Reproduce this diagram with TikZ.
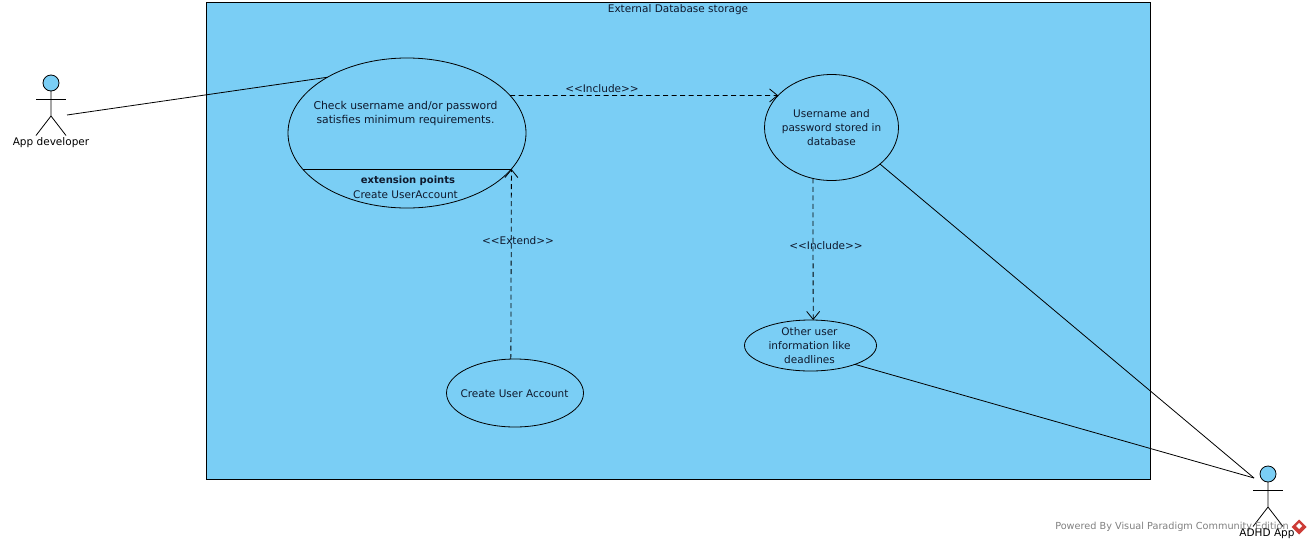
\documentclass[tikz,border=0pt]{standalone}
\usepackage{fontspec}
\setmainfont{DejaVu Sans}
\definecolor{VPblue}{RGB}{122, 206, 245}
\definecolor{VPtext}{RGB}{15, 25, 45}
\definecolor{VPred}{RGB}{205, 60, 55}
\usetikzlibrary{arrows.meta, calc, positioning, shapes.geometric}
\tikzset{
	usecase/.style={ellipse, draw, fill=VPblue, line width=0.8pt, inner sep=0pt, outer sep=0pt, align=center, text=VPtext},
	vptext/.style={font=\fontsize{10.5}{14}\selectfont, text=VPtext, inner sep=0pt, align=center},
	assoc/.style={line width=0.8pt},
	depend/.style={line width=0.8pt, dash pattern=on 5pt off 3.5pt, -{Straight Barb[length=8pt, width=13pt, line width=0.8pt]}},
}
\begin{document}
\begin{tikzpicture}[x=1pt, y=-1pt]
	\useasboundingbox (0,0) rectangle (1311,544);
	% System box
	\node [draw, fill=VPblue, line width=0.9pt, minimum width=944pt, minimum height=477.5pt, inner sep=0pt, outer sep=0pt] (storage) at (678.5,240.75) {};
	\node [vptext] (storagetitle) at (678,10) {External Database storage};

	% Use cases
	\node [usecase, minimum width=238pt, minimum height=150pt] (check) at (407,133) {};
	\node [vptext, font=\fontsize{10.8}{14}\selectfont] (checktext) at (405.5,114) {Check username and/or password\\satisfies minimum requirements.};
	\node [vptext, font=\fontsize{10}{14}\selectfont\bfseries] (extpoints) at (408,181) {extension points};
	\node [vptext] (extcreate) at (405.5,195) {Create UserAccount};
	\node [usecase, minimum width=134pt, minimum height=106pt] (stored) at (831.5,127.5) {};
	\node [vptext] (storedtext) at (831.5,127.5) {Username and\\password stored in\\database};
	\node [usecase, minimum width=132pt, minimum height=51pt] (other) at (810.5,345.5) {};
	\node [vptext] (othertext) at (809.5,345.5) {Other user\\information like\\deadlines};
	\node [usecase, minimum width=137pt, minimum height=68pt] (create) at (515,393) {};
	\node [vptext] (createtext) at (514.5,393.5) {Create User Account};
	\draw [assoc] (check.199) -- (check.-19);

	% Actors
	\foreach \actor/\hx/\hy in {dev/51/83, adhd/1268/474}
	{
		\node [circle, draw, fill=VPblue, line width=0.8pt, minimum size=16pt, inner sep=0pt, outer sep=0pt] (\actor head) at (\hx,\hy) {};
		\draw [assoc] (\actor head.south) -- ++(0,25) -- ++(-15,19.5);
		\draw [assoc] (\hx,\hy+33) -- ++(15,19.5);
		\draw [assoc] (\hx-15,\hy+16) -- (\hx+15,\hy+16);
	}
	\node [vptext, text=black] (devname) at (51,143) {App developer};

	% Watermark
	\node [font=\fontsize{9.7}{14}\selectfont, text=black!50, inner sep=0pt] (powered) at (1172,527) {Powered By Visual Paradigm Community Edition};
	\fill [VPred] (1299,519.5) -- (1306.5,527) -- (1299,534.5) -- (1291.5,527) -- cycle;
	\fill [white] (1299,523) -- (1302,526) -- (1299,529) -- (1296,526) -- cycle;
	\node [vptext, text=black] (adhdname) at (1267,533.5) {ADHD App};

	% Connectors
	\coordinate (devhand) at (67,115);
	\coordinate (adhdhand) at (1254,478);
	\draw [assoc] (devhand) -- (check.145.5);
	\draw [assoc] (stored.-37) -- (adhdhand);
	\draw [assoc] (other.-23.7) -- (adhdhand);
	\draw [depend] (check.20.3) -- (stored.149.5);
	\draw [depend] (create.97) -- (check.-19);
	\draw [depend] (stored.250.6) -- (other.84.4);

	% Labels
	\node [vptext] (inclone) at (602,89) {<{}<Include>{}>};
	\node [vptext] (incltwo) at (826,246) {<{}<Include>{}>};
	\node [vptext] (extend) at (518,241) {<{}<Extend>{}>};
\end{tikzpicture}
\end{document}
